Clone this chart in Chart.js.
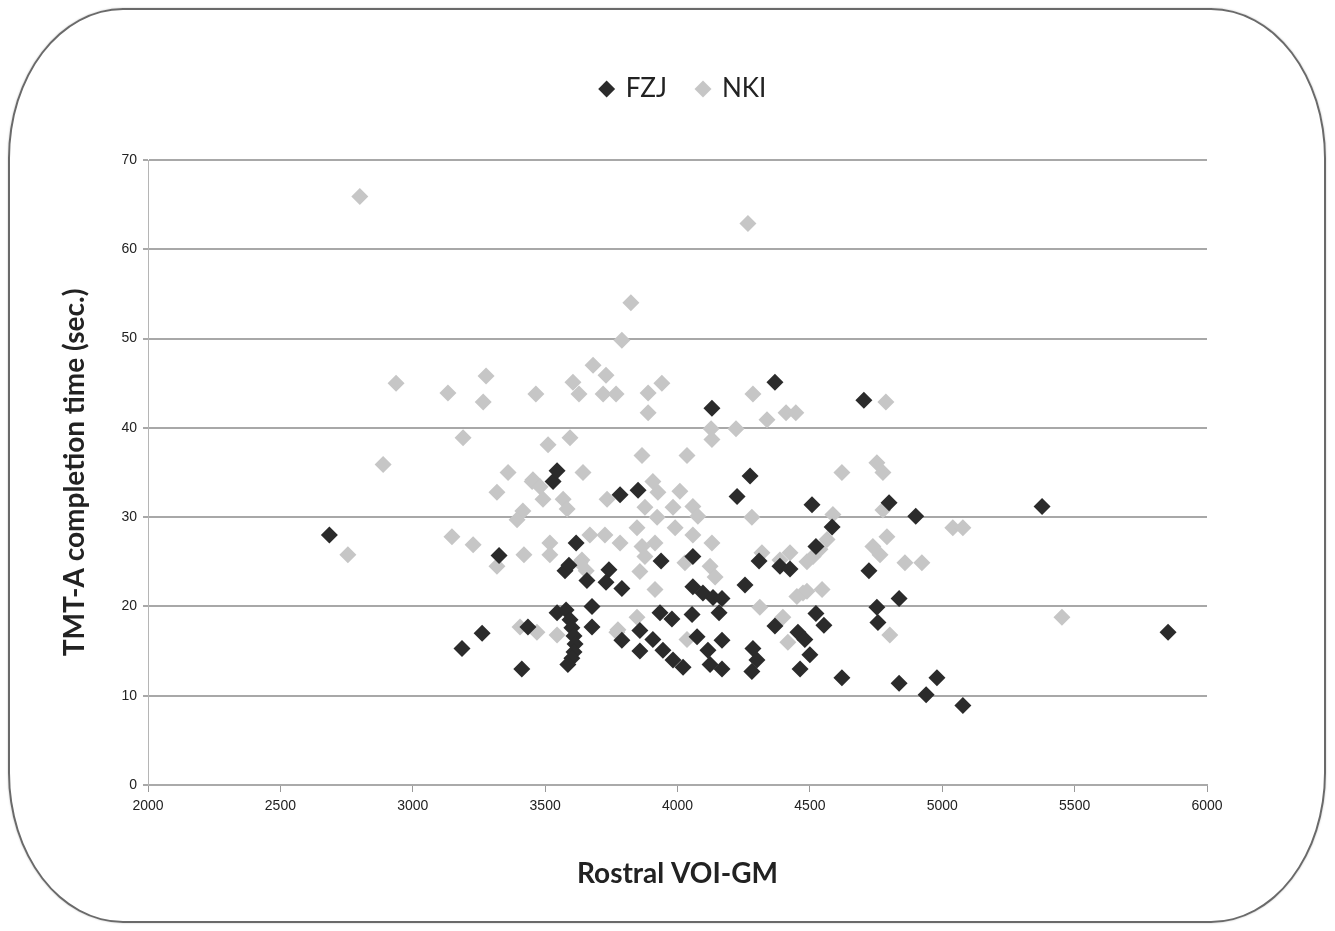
<!DOCTYPE html>
<html>
<head>
<meta charset="utf-8">
<script src="https://cdn.jsdelivr.net/npm/chart.js@4.4.1/dist/chart.umd.min.js"></script>
<style>
  body { margin: 0; background: #fff; }
  #wrap { position: relative; width: 1335px; height: 931px; }
  #frame {
    position: absolute; left: 8px; top: 8px; width: 1314px; height: 911px;
    border: 2px solid #6a6a6a; border-radius: 115px / 150px;
    box-shadow: 0 0 2px rgba(0,0,0,0.25);
  }
  canvas { position: absolute; left: 0; top: 0; }
</style>
</head>
<body>
<div id="wrap">
  <div id="frame"></div>
  <canvas id="chart" width="1335" height="931"></canvas>
</div>
<script>
// FZJ sample: rostral VOI-GM vs TMT-A time
const fzjX = [2685, 3186, 3262, 3326, 3412, 3435, 3530, 3545, 3783, 3851,
  3617, 3575, 3590, 3658, 3741, 3730, 3790, 3938, 4058, 4058,
  3545, 3579, 3594, 3601, 3609, 3613, 3609, 3601, 3586, 3677,
  3677, 3858, 3790, 3858, 3934, 3979, 4055, 3907, 3945, 3983,
  4021, 4074, 4274, 4225, 4508, 4799, 4900, 5377, 4584, 4523,
  4308, 4387, 4425, 4723, 4255, 4096, 4134, 4168, 4157, 4753,
  4757, 4837, 4368, 4523, 4553, 4168, 4455, 4481, 4500, 4115,
  4285, 4300, 4123, 4168, 4281, 4463, 4621, 4837, 4980, 4939,
  5078, 4130, 4368, 4704, 5853]
const fzjY = [28.0, 15.3, 17.0, 25.7, 13.0, 17.7, 34.0, 35.2, 32.5, 33.0,
  27.1, 24.0, 24.6, 22.9, 24.1, 22.7, 22.0, 25.1, 25.6, 22.2,
  19.3, 19.6, 18.5, 17.6, 16.7, 15.8, 14.9, 14.2, 13.5, 20.0,
  17.7, 17.3, 16.2, 15.0, 19.3, 18.6, 19.1, 16.3, 15.1, 14.0,
  13.2, 16.6, 34.6, 32.3, 31.4, 31.6, 30.1, 31.2, 28.9, 26.7,
  25.1, 24.5, 24.2, 24.0, 22.4, 21.5, 21.0, 20.9, 19.3, 19.9,
  18.2, 20.9, 17.8, 19.2, 17.9, 16.2, 17.1, 16.3, 14.6, 15.1,
  15.3, 14.0, 13.5, 13.0, 12.7, 13.0, 12.0, 11.4, 12.0, 10.1,
  8.9, 42.2, 45.1, 43.1, 17.1]

// NKI sample
const nkiX = [2800, 4266, 3824, 3790, 2937, 3133, 3277, 3266, 3465, 3605,
  3628, 3681, 3730, 3719, 3768, 3889, 3889, 3941, 3190, 3511,
  3594, 4285, 4410, 4447, 4338, 4221, 4127, 4130, 4787, 2888,
  2755, 3148, 3228, 3318, 3318, 3360, 3416, 3394, 3451, 3420,
  3518, 3518, 3866, 4036, 3643, 3454, 3481, 3492, 3568, 3583,
  3734, 3907, 3926, 4009, 3877, 3923, 3983, 4058, 4077, 4281,
  3669, 3726, 3783, 3847, 3991, 4058, 4130, 3866, 3877, 3858,
  3639, 3915, 4028, 4123, 4142, 3915, 4319, 4425, 4474, 4311,
  3847, 4398, 3469, 3405, 3545, 3771, 4036, 4621, 4753, 4776,
  4587, 4776, 5040, 5078, 4387, 4489, 4512, 4565, 4538, 4738,
  4791, 4765, 4859, 4923, 4451, 4489, 4546, 4417, 4802, 5452,
  3775, 3655, 3632]
const nkiY = [65.9, 62.9, 54.0, 49.8, 45.0, 43.9, 45.8, 42.9, 43.8, 45.1,
  43.8, 47.0, 45.9, 43.8, 43.8, 43.9, 41.7, 45.0, 38.9, 38.1,
  38.9, 43.8, 41.7, 41.7, 40.9, 39.9, 39.9, 38.7, 42.9, 35.9,
  25.8, 27.8, 26.9, 24.5, 32.8, 35.0, 30.7, 29.7, 34.0, 25.8,
  27.1, 25.8, 36.9, 36.9, 35.0, 34.2, 33.4, 32.0, 32.0, 30.9,
  32.0, 34.0, 32.8, 32.9, 31.1, 30.0, 31.1, 31.2, 30.1, 30.0,
  28.0, 28.0, 27.1, 28.8, 28.8, 28.0, 27.1, 26.7, 25.6, 23.9,
  25.2, 27.1, 24.9, 24.5, 23.3, 21.9, 26.0, 26.0, 21.5, 19.9,
  18.8, 18.8, 17.1, 17.7, 16.8, 17.1, 16.3, 35.0, 36.1, 35.0,
  30.3, 30.8, 28.8, 28.8, 25.2, 25.0, 25.6, 27.5, 26.4, 26.7,
  27.8, 25.8, 24.9, 24.9, 21.1, 21.7, 21.9, 16.0, 16.8, 18.8,
  17.4, 24.0, 24.9]

const xTitle = 'Rostral VOI-GM'
const yTitle = 'TMT-A completion time (sec.)'

const toPoints = (xs, ys) => xs.map((x, i) => ({ x: x, y: ys[i] }))

const tickFont = { family: "'Liberation Sans Narrow', 'Liberation Sans', sans-serif", size: 14 }
const titleFont = { family: 'Lato, sans-serif', size: 28, weight: 'bold' }

// push the plot down below the legend, and nudge the legend to the right
const legendMargin = {
  id: 'legendMargin',
  beforeInit (chart) {
    const fit = chart.legend.fit
    chart.legend.fit = function () {
      fit.bind(chart.legend)()
      this.height += 48
    }
  },
  afterLayout (chart) {
    chart.legend.left += 55
    chart.legend.right += 55
  }
}

const ctx = document.getElementById('chart')
const chart = new Chart(ctx, {
  type: 'scatter',
  data: {
    datasets: [
      {
        label: 'FZJ',
        data: toPoints(fzjX, fzjY),
        backgroundColor: '#2b2b2b',
        borderColor: '#2b2b2b',
        borderWidth: 0,
        pointStyle: 'rectRot',
        pointRadius: 8.5,
        pointHoverRadius: 8.5
      },
      {
        label: 'NKI',
        data: toPoints(nkiX, nkiY),
        backgroundColor: '#c6c6c6',
        borderColor: '#c6c6c6',
        borderWidth: 0,
        pointStyle: 'rectRot',
        pointRadius: 8.5,
        pointHoverRadius: 8.5
      }
    ]
  },
  options: {
    responsive: false,
    animation: false,
    layout: {
      padding: { top: 46, left: 50, right: 128, bottom: 28 }
    },
    plugins: {
      legend: {
        display: true,
        position: 'top',
        labels: {
          usePointStyle: true,
          pointStyle: 'rectRot',
          boxWidth: 12,
          boxHeight: 12,
          padding: 30,
          color: '#222',
          font: { family: 'Lato, sans-serif', size: 26 }
        }
      },
      tooltip: { enabled: false }
    },
    scales: {
      x: {
        type: 'linear',
        min: 2000,
        max: 6000,
        ticks: {
          stepSize: 500,
          color: '#222',
          font: tickFont,
          padding: 6,
          maxRotation: 0,
          callback: (v) => String(v)
        },
        grid: { drawOnChartArea: false, drawTicks: true, tickLength: 7, color: '#999' },
        border: { display: true, color: '#aaa', width: 2 },
        title: { display: true, text: xTitle, color: '#222', font: titleFont, padding: { top: 4, bottom: 12 } },
        afterFit: (scale) => { scale.height = 931 - 785 - 28 }
      },
      y: {
        type: 'linear',
        min: 0,
        max: 70,
        ticks: { stepSize: 10, color: '#222', font: tickFont, padding: 6 },
        grid: { color: '#a8a8a8', lineWidth: 2, tickLength: 5, drawTicks: true },
        border: { display: true, color: '#b5b5b5', width: 1 },
        title: { display: true, text: yTitle, color: '#222', font: titleFont, padding: { top: 8, bottom: 4 } },
        afterFit: (scale) => { scale.width = 148 - 50 }
      }
    }
  },
  plugins: [legendMargin]
})
</script>
</body>
</html>
